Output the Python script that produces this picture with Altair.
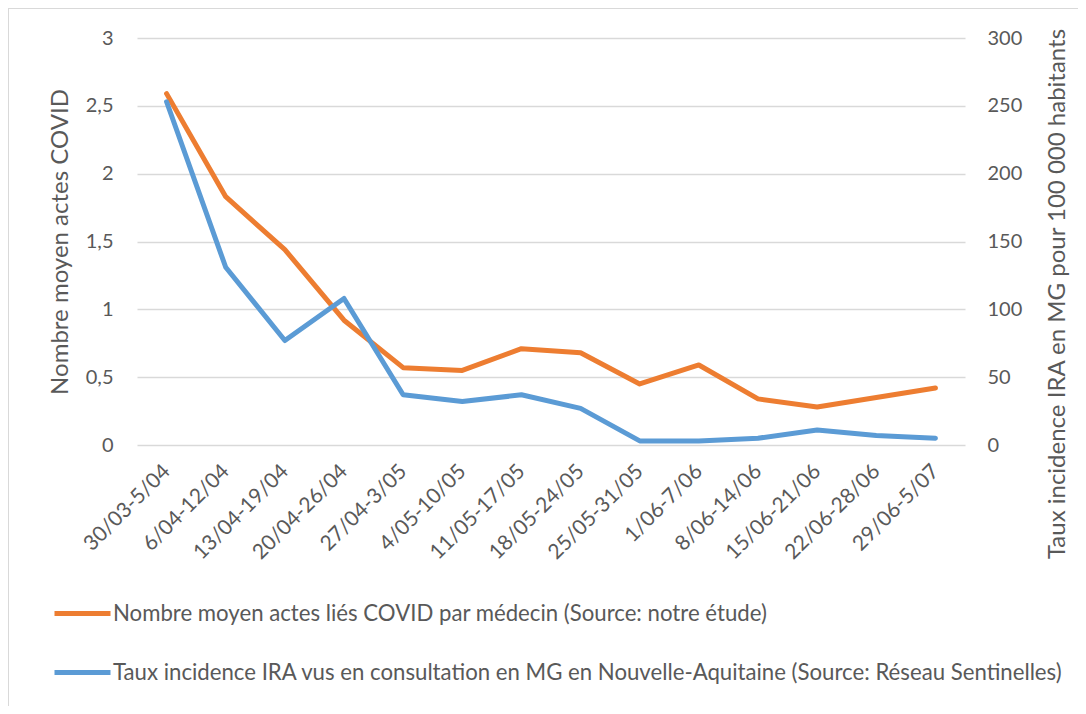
import altair as alt
import pandas as pd

categories = ["30/03-5/04", "6/04-12/04", "13/04-19/04", "20/04-26/04", "27/04-3/05",
              "4/05-10/05", "11/05-17/05", "18/05-24/05", "25/05-31/05", "1/06-7/06",
              "8/06-14/06", "15/06-21/06", "22/06-28/06", "29/06-5/07"]
actes_covid = [2.59, 1.83, 1.44, 0.92, 0.57, 0.55, 0.71, 0.68, 0.45, 0.59, 0.34, 0.28, 0.35, 0.42]
incidence_ira = [253, 131, 77, 108, 37, 32, 37, 27, 3, 3, 5, 11, 7, 5]

series_names = [
    "Nombre moyen actes liés COVID par médecin (Source: notre étude)",
    "Taux incidence IRA vus en consultation en MG en Nouvelle-Aquitaine (Source: Réseau Sentinelles)",
]
series_colors = ["#ED7D31", "#5B9BD5"]

df_a = pd.DataFrame({"semaine": categories, "actes": actes_covid, "serie": series_names[0]})
df_b = pd.DataFrame({"semaine": categories, "ira": incidence_ira, "serie": series_names[1]})

FONT = "Lato"
TXT = "#595959"
W, H = 828, 407

x_enc = alt.X("semaine:N", sort=categories, title=None,
              scale=alt.Scale(type="point", padding=0.5),
              axis=alt.Axis(labelAngle=315, labelAlign="right", labelBaseline="middle",
                            labelPadding=23, domain=False, ticks=False, grid=False,
                            labelFontSize=21, labelColor=TXT, labelFont=FONT))

color_enc = alt.Color("serie:N",
                      scale=alt.Scale(domain=series_names, range=series_colors),
                      legend=alt.Legend(title=None, orient="none", legendX=-85, legendY=545,
                                        direction="vertical", symbolType="stroke",
                                        symbolSize=3136, symbolStrokeWidth=5,
                                        labelFontSize=22.2, labelFont=FONT, labelColor=TXT,
                                        labelLimit=1200, labelOffset=0, rowPadding=17, padding=0))

left = alt.Chart(df_a).mark_line(strokeWidth=5, strokeJoin="round", strokeCap="round").encode(
    x=x_enc,
    y=alt.Y("actes:Q", scale=alt.Scale(domain=[0, 3], nice=False),
            axis=alt.Axis(orient="left", values=[0, 0.5, 1, 1.5, 2, 2.5, 3],
                          labelExpr="replace(format(datum.value, '.1~f'), '.', ',')",
                          title="Nombre moyen actes COVID", titleAngle=270,
                          titleX=-77, titleY=203.5, titleAlign="center", titleBaseline="middle",
                          titleFontSize=24, titleFont=FONT, titleColor=TXT, titleFontWeight="normal",
                          labelFontSize=20, labelFont=FONT, labelColor=TXT, labelPadding=24,
                          domain=False, ticks=False, grid=True, gridColor="#d9d9d9", gridWidth=1.5)),
    color=color_enc,
)

right = alt.Chart(df_b).mark_line(strokeWidth=5, strokeJoin="round", strokeCap="round").encode(
    x=x_enc,
    y=alt.Y("ira:Q", scale=alt.Scale(domain=[0, 300], nice=False),
            axis=alt.Axis(orient="right", values=[0, 50, 100, 150, 200, 250, 300],
                          title="Taux incidence IRA en MG pour 100 000 habitants", titleAngle=270,
                          titleX=92, titleY=255.5, titleAlign="center", titleBaseline="middle",
                          titleFontSize=24, titleFont=FONT, titleColor=TXT, titleFontWeight="normal",
                          labelFontSize=20, labelFont=FONT, labelColor=TXT, labelPadding=22,
                          domain=False, ticks=False, grid=False)),
    color=color_enc,
)

border = alt.Chart(pd.DataFrame({"k": [0]})).mark_rect(
    fill="transparent", stroke="#d9d9d9", strokeWidth=2
).encode(x=alt.value(-129), x2=alt.value(W + 300), y=alt.value(-30), y2=alt.value(H + 400))

chart = alt.layer(border, left, right).resolve_scale(y="independent").properties(
    width=W, height=H,
    autosize=alt.AutoSizeParams(type="none"),
    padding={"left": 129, "top": 30, "right": 113, "bottom": 261},
).configure(background="white").configure_view(stroke=None)

chart.save("out.html", embed_options={"renderer": "svg", "actions": False})
